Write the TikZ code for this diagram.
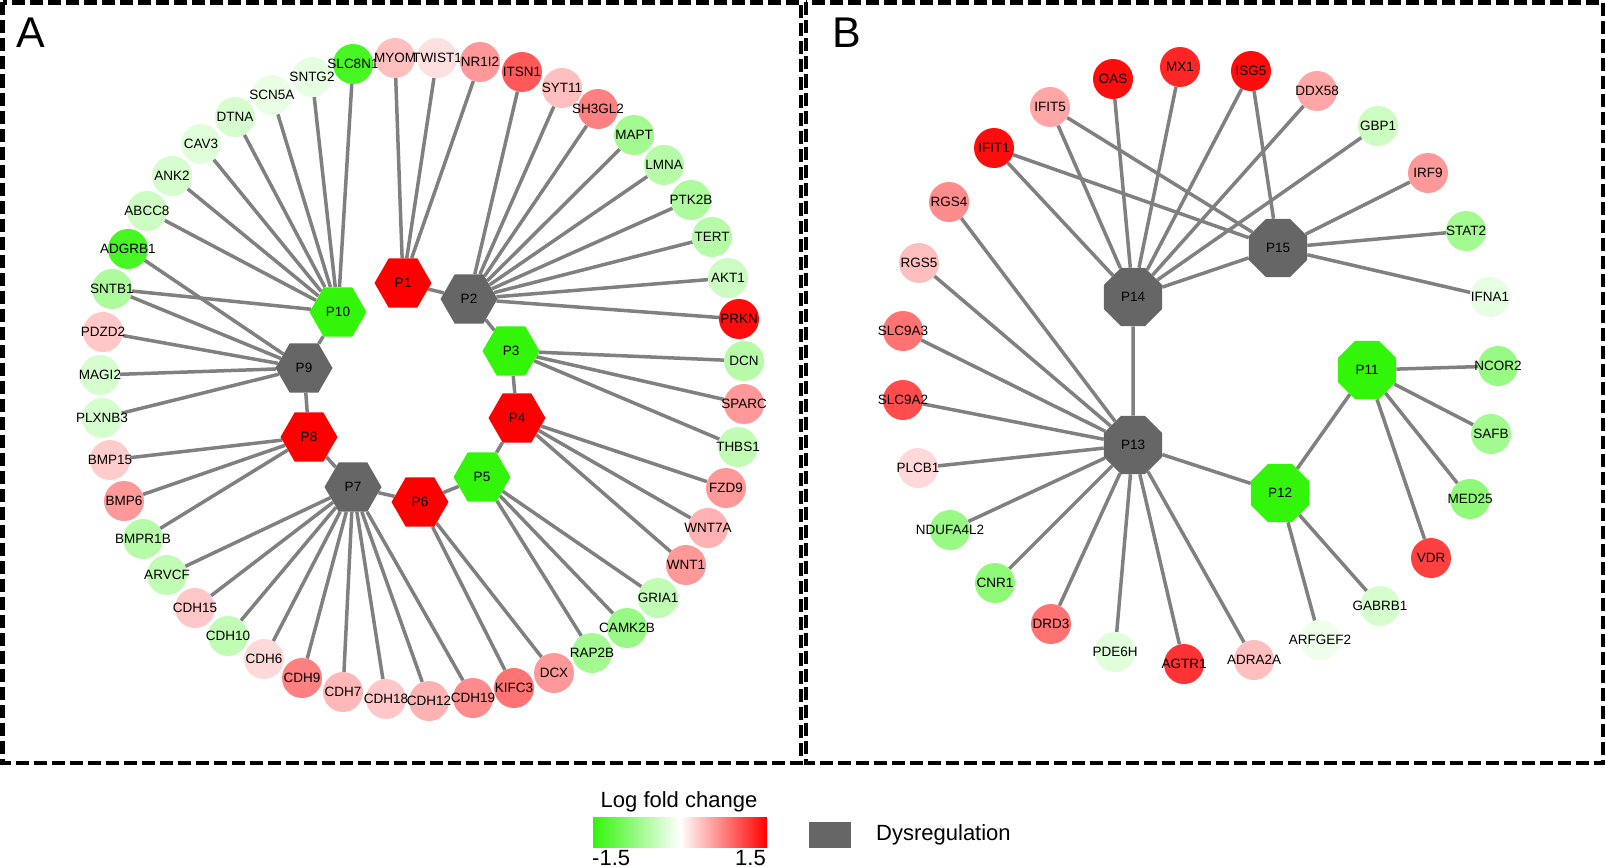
\documentclass[tikz,border=0pt]{standalone}
\usepackage{fontspec}
\setmainfont{Liberation Sans}
\usetikzlibrary{shapes.geometric,backgrounds}
\definecolor{lfcgreen}{RGB}{50,245,10}
\definecolor{lfcred}{RGB}{255,0,0}
\definecolor{dysgray}{RGB}{102,102,102}
\definecolor{edgegray}{RGB}{128,128,128}

\begin{document}
\begin{tikzpicture}[x=1pt,y=-1pt,font=\fontsize{13.5}{16}\selectfont]
\tikzstyle{gene}=[circle,minimum size=40,inner sep=0pt]
\tikzstyle{hexhub}=[regular polygon,regular polygon sides=6,minimum size=57,inner sep=0pt]
\tikzstyle{octhub}=[regular polygon,regular polygon sides=8,minimum size=63,inner sep=0pt]
\tikzstyle{link}=[edgegray,line width=3.5pt]
\tikzstyle{frame}=[line width=4.5pt,dash pattern=on 13pt off 5pt]

\useasboundingbox (0,0) rectangle (1606,867);

% panel frames
\draw [frame] (2.5,2.5) rectangle (801,763);
\draw [frame] (806,2.5) rectangle (1603,763);
\draw (31,33) node (labA) [font=\fontsize{43}{50}\selectfont] {A};
\draw (847,33) node (labB) [font=\fontsize{43}{50}\selectfont] {B};

% panel A, hubs
\draw (403,283) node (P1) [hexhub,fill=lfcred] {P1};
\draw (469,299) node (P2) [hexhub,fill=dysgray] {P2};
\draw (511,351) node (P3) [hexhub,fill=lfcgreen] {P3};
\draw (517,418) node (P4) [hexhub,fill=lfcred] {P4};
\draw (482,477) node (P5) [hexhub,fill=lfcgreen] {P5};
\draw (420,502) node (P6) [hexhub,fill=lfcred] {P6};
\draw (353,487) node (P7) [hexhub,fill=dysgray] {P7};
\draw (309,437) node (P8) [hexhub,fill=lfcred] {P8};
\draw (304,368) node (P9) [hexhub,fill=dysgray] {P9};
\draw (338,312) node (P10) [hexhub,fill=lfcgreen] {P10};

% panel A, genes
\draw (128,249) node (ADGRB1) [gene,fill=lfcgreen!90,label=center:ADGRB1] {};
\draw (147,211) node (ABCC8) [gene,fill=lfcgreen!25,label=center:ABCC8] {};
\draw (172,176) node (ANK2) [gene,fill=lfcgreen!20,label=center:ANK2] {};
\draw (201,144) node (CAV3) [gene,fill=lfcgreen!15,label=center:CAV3] {};
\draw (235,117) node (DTNA) [gene,fill=lfcgreen!20,label=center:DTNA] {};
\draw (272,95) node (SCN5A) [gene,fill=lfcgreen!10,label=center:SCN5A] {};
\draw (312,77) node (SNTG2) [gene,fill=lfcgreen!12,label=center:SNTG2] {};
\draw (353,64) node (SLC8N1) [gene,fill=lfcgreen!90,label=center:SLC8N1] {};
\draw (395,58) node (MYOM) [gene,fill=lfcred!25,label=center:MYOM] {};
\draw (437,58) node (TWIST1) [gene,fill=lfcred!12,label=center:TWIST1] {};
\draw (480,62) node (NR1I2) [gene,fill=lfcred!40,label=center:NR1I2] {};
\draw (522,72) node (ITSN1) [gene,fill=lfcred!65,label=center:ITSN1] {};
\draw (562,88) node (SYT11) [gene,fill=lfcred!25,label=center:SYT11] {};
\draw (598,109) node (SH3GL2) [gene,fill=lfcred!50,label=center:SH3GL2] {};
\draw (634,135) node (MAPT) [gene,fill=lfcgreen!45,label=center:MAPT] {};
\draw (664,165) node (LMNA) [gene,fill=lfcgreen!35,label=center:LMNA] {};
\draw (691,200) node (PTK2B) [gene,fill=lfcgreen!40,label=center:PTK2B] {};
\draw (712,237) node (TERT) [gene,fill=lfcgreen!35,label=center:TERT] {};
\draw (728,278) node (AKT1) [gene,fill=lfcgreen!25,label=center:AKT1] {};
\draw (739,319) node (PRKN) [gene,fill=lfcred!95,label=center:PRKN] {};
\draw (744,361) node (DCN) [gene,fill=lfcgreen!35,label=center:DCN] {};
\draw (744,404) node (SPARC) [gene,fill=lfcred!40,label=center:SPARC] {};
\draw (738,447) node (THBS1) [gene,fill=lfcgreen!30,label=center:THBS1] {};
\draw (726,488) node (FZD9) [gene,fill=lfcred!40,label=center:FZD9] {};
\draw (708,528) node (WNT7A) [gene,fill=lfcred!30,label=center:WNT7A] {};
\draw (686,565) node (WNT1) [gene,fill=lfcred!40,label=center:WNT1] {};
\draw (658,598) node (GRIA1) [gene,fill=lfcgreen!30,label=center:GRIA1] {};
\draw (627,628) node (CAMK2B) [gene,fill=lfcgreen!50,label=center:CAMK2B] {};
\draw (592,653) node (RAP2B) [gene,fill=lfcgreen!45,label=center:RAP2B] {};
\draw (554,673) node (DCX) [gene,fill=lfcred!40,label=center:DCX] {};
\draw (110,460) node (BMP15) [gene,fill=lfcred!20,label=center:BMP15] {};
\draw (124,501) node (BMP6) [gene,fill=lfcred!40,label=center:BMP6] {};
\draw (143,539) node (BMPR1B) [gene,fill=lfcgreen!35,label=center:BMPR1B] {};
\draw (167,575) node (ARVCF) [gene,fill=lfcgreen!30,label=center:ARVCF] {};
\draw (195,608) node (CDH15) [gene,fill=lfcred!22,label=center:CDH15] {};
\draw (228,636) node (CDH10) [gene,fill=lfcgreen!30,label=center:CDH10] {};
\draw (264,659) node (CDH6) [gene,fill=lfcred!15,label=center:CDH6] {};
\draw (302,678) node (CDH9) [gene,fill=lfcred!50,label=center:CDH9] {};
\draw (343,692) node (CDH7) [gene,fill=lfcred!28,label=center:CDH7] {};
\draw (386,699) node (CDH18) [gene,fill=lfcred!22,label=center:CDH18] {};
\draw (429,701) node (CDH12) [gene,fill=lfcred!30,label=center:CDH12] {};
\draw (473,698) node (CDH19) [gene,fill=lfcred!45,label=center:CDH19] {};
\draw (514,688) node (KIFC3) [gene,fill=lfcred!55,label=center:KIFC3] {};
\draw (112,289) node (SNTB1) [gene,fill=lfcgreen!40,label=center:SNTB1] {};
\draw (103,332) node (PDZD2) [gene,fill=lfcred!22,label=center:PDZD2] {};
\draw (100,375) node (MAGI2) [gene,fill=lfcgreen!20,label=center:MAGI2] {};
\draw (102,418) node (PLXNB3) [gene,fill=lfcgreen!20,label=center:PLXNB3] {};

% panel B, hubs
\draw (1367,370) node (P11) [octhub,fill=lfcgreen] {P11};
\draw (1280,493) node (P12) [octhub,fill=lfcgreen] {P12};
\draw (1133,445) node (P13) [octhub,fill=dysgray] {P13};
\draw (1133,297) node (P14) [octhub,fill=dysgray] {P14};
\draw (1278,248) node (P15) [octhub,fill=dysgray] {P15};

% panel B, genes
\draw (949,202) node (RGS4) [gene,fill=lfcred!45,label=center:RGS4] {};
\draw (994,148) node (IFIT1) [gene,fill=lfcred!95,label=center:IFIT1] {};
\draw (1050,107) node (IFIT5) [gene,fill=lfcred!35,label=center:IFIT5] {};
\draw (1113,79) node (OAS) [gene,fill=lfcred!95,label=center:OAS] {};
\draw (1180,67) node (MX1) [gene,fill=lfcred!85,label=center:MX1] {};
\draw (1251,71) node (ISG5) [gene,fill=lfcred!95,label=center:ISG5] {};
\draw (1317,91) node (DDX58) [gene,fill=lfcred!35,label=center:DDX58] {};
\draw (1378,126) node (GBP1) [gene,fill=lfcgreen!25,label=center:GBP1] {};
\draw (1428,173) node (IRF9) [gene,fill=lfcred!40,label=center:IRF9] {};
\draw (1466,231) node (STAT2) [gene,fill=lfcgreen!45,label=center:STAT2] {};
\draw (1490,297) node (IFNA1) [gene,fill=lfcgreen!12,label=center:IFNA1] {};
\draw (1498,366) node (NCOR2) [gene,fill=lfcgreen!50,label=center:NCOR2] {};
\draw (1491,434) node (SAFB) [gene,fill=lfcgreen!45,label=center:SAFB] {};
\draw (1470,499) node (MED25) [gene,fill=lfcgreen!55,label=center:MED25] {};
\draw (1431,558) node (VDR) [gene,fill=lfcred!75,label=center:VDR] {};
\draw (1380,606) node (GABRB1) [gene,fill=lfcgreen!20,label=center:GABRB1] {};
\draw (1320,640) node (ARFGEF2) [gene,fill=lfcgreen!8,label=center:ARFGEF2] {};
\draw (1254,660) node (ADRA2A) [gene,fill=lfcred!25,label=center:ADRA2A] {};
\draw (1184,664) node (AGTR1) [gene,fill=lfcred!80,label=center:AGTR1] {};
\draw (1115,652) node (PDE6H) [gene,fill=lfcgreen!15,label=center:PDE6H] {};
\draw (1051,624) node (DRD3) [gene,fill=lfcred!55,label=center:DRD3] {};
\draw (995,583) node (CNR1) [gene,fill=lfcgreen!55,label=center:CNR1] {};
\draw (950,530) node (NDUFA4L2) [gene,fill=lfcgreen!50,label=center:NDUFA4L2] {};
\draw (918,468) node (PLCB1) [gene,fill=lfcred!15,label=center:PLCB1] {};
\draw (903,400) node (SLC9A2) [gene,fill=lfcred!70,label=center:SLC9A2] {};
\draw (903,331) node (SLC9A3) [gene,fill=lfcred!55,label=center:SLC9A3] {};
\draw (919,263) node (RGS5) [gene,fill=lfcred!25,label=center:RGS5] {};

\begin{pgfonlayer}{background}
% panel A links
\draw [link] (P1) -- (P2) -- (P3) -- (P4) -- (P5) -- (P6) -- (P7) -- (P8) -- (P9) -- (P10);
\draw [link] (P1) -- (MYOM) (P1) -- (TWIST1) (P1) -- (NR1I2);
\draw [link] (P2) -- (ITSN1) (P2) -- (SYT11) (P2) -- (SH3GL2) (P2) -- (MAPT) (P2) -- (LMNA)
  (P2) -- (PTK2B) (P2) -- (TERT) (P2) -- (AKT1) (P2) -- (PRKN);
\draw [link] (P3) -- (DCN) (P3) -- (SPARC) (P3) -- (THBS1);
\draw [link] (P4) -- (FZD9) (P4) -- (WNT7A) (P4) -- (WNT1);
\draw [link] (P5) -- (GRIA1) (P5) -- (CAMK2B) (P5) -- (RAP2B);
\draw [link] (P6) -- (DCX) (P6) -- (KIFC3);
\draw [link] (P7) -- (CDH19) (P7) -- (CDH12) (P7) -- (CDH18) (P7) -- (CDH7) (P7) -- (CDH9)
  (P7) -- (CDH6) (P7) -- (CDH10) (P7) -- (CDH15) (P7) -- (ARVCF);
\draw [link] (P8) -- (BMPR1B) (P8) -- (BMP6) (P8) -- (BMP15);
\draw [link] (P9) -- (PLXNB3) (P9) -- (MAGI2) (P9) -- (PDZD2) (P9) -- (SNTB1) (P9) -- (ADGRB1);
\draw [link] (P10) -- (SNTB1) (P10) -- (ABCC8) (P10) -- (ANK2) (P10) -- (CAV3) (P10) -- (DTNA)
  (P10) -- (SCN5A) (P10) -- (SNTG2) (P10) -- (SLC8N1);
% panel B links
\draw [link] (P14) -- (IFIT1) (P14) -- (IFIT5) (P14) -- (OAS) (P14) -- (MX1) (P14) -- (ISG5)
  (P14) -- (DDX58) (P14) -- (GBP1) (P14) -- (P15) (P14) -- (P13);
\draw [link] (P15) -- (IFIT1) (P15) -- (IFIT5) (P15) -- (ISG5) (P15) -- (IRF9) (P15) -- (STAT2)
  (P15) -- (IFNA1);
\draw [link] (P13) -- (RGS4) (P13) -- (RGS5) (P13) -- (SLC9A3) (P13) -- (SLC9A2) (P13) -- (PLCB1)
  (P13) -- (NDUFA4L2) (P13) -- (CNR1) (P13) -- (DRD3) (P13) -- (PDE6H) (P13) -- (AGTR1)
  (P13) -- (ADRA2A) (P13) -- (P12);
\draw [link] (P12) -- (P11) (P12) -- (ARFGEF2) (P12) -- (GABRB1);
\draw [link] (P11) -- (NCOR2) (P11) -- (SAFB) (P11) -- (MED25) (P11) -- (VDR);
\end{pgfonlayer}

% legend
\draw (679,802) node (lfctitle) [font=\fontsize{22}{26}\selectfont] {Log fold change};
\shade [left color=lfcgreen,right color=lfcred,middle color=white] (593,817) rectangle (767,847);
\draw (592,858) node (lfcmin) [anchor=west,inner sep=0pt,font=\fontsize{22}{26}\selectfont] {-1.5};
\draw (766,858) node (lfcmax) [anchor=east,inner sep=0pt,font=\fontsize{22}{26}\selectfont] {1.5};
\fill [dysgray] (809,822) rectangle (851,848);
\draw (876,835) node (dyslabel) [anchor=west,inner sep=0pt,font=\fontsize{22}{26}\selectfont] {Dysregulation};
\end{tikzpicture}
\end{document}
